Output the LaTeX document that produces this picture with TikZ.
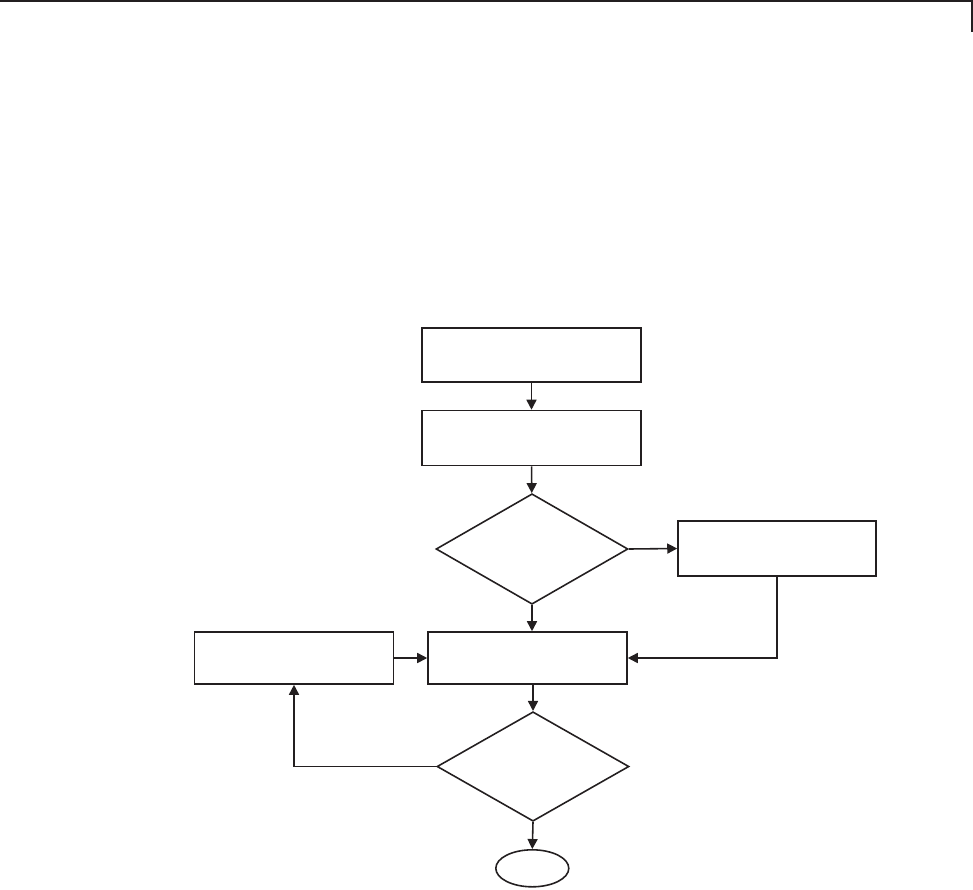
\documentclass[tikz,border=0pt]{standalone}
\usepackage{tikz}
\usetikzlibrary{arrows.meta,positioning,shapes.geometric}
\definecolor{FCInk}{HTML}{231F20}
\tikzset{
  flow/.style={-{Triangle[length=2.0mm,width=2.0mm]},FCInk,line width=0.9pt},
  procbox/.style={draw=FCInk,line width=0.9pt,fill=white,inner sep=0pt},
  decision/.style={diamond,draw=FCInk,line width=0.9pt,inner sep=0pt,
                   minimum width=3.84cm,minimum height=2.21cm},
  terminal/.style={ellipse,draw=FCInk,line width=0.9pt,inner sep=0pt,
                   minimum width=1.46cm,minimum height=0.74cm},
  headrule/.style={FCInk,line width=0.6pt},
}

\begin{document}
\begin{tikzpicture}[x=0.02cm,y=-0.02cm]
    \useasboundingbox (0,0) rectangle (973,889);
    \draw[headrule] (0,1) -- (972,1) -- (972,32);

    \node[procbox,minimum width=4.38cm,minimum height=1.08cm] (start) at (531.5,355) {};
    \node[procbox,minimum width=4.38cm,minimum height=1.10cm] (init) at (531.5,438) {};
    \node[decision] (testA) at (532,549) {};
    \node[procbox,minimum width=3.96cm,minimum height=1.10cm] (branch) at (777,548.5) {};
    \node[procbox,minimum width=3.98cm,minimum height=1.04cm] (work) at (527.5,658) {};
    \node[procbox,minimum width=3.98cm,minimum height=1.04cm] (update) at (294,658) {};
    \node[decision,minimum height=2.19cm] (testB) at (533,766.5) {};
    \node[terminal] (stop) at (532.3,868.3) {};

    \draw[flow] (start) -- (init);
    \draw[flow] (init) -- (testA);
    \draw[flow] (testA.east) -- (branch.west);
    \draw[flow] (testA.south) -- (testA.south |- work.north);
    \draw[flow] (branch.south) |- (work.east);
    \draw[flow] (update.east) -- (work.west);
    \draw[flow] (testB.north |- work.south) -- (testB.north);
    \draw[flow] (testB.west) -| (update.south);
    \draw[flow] (testB.south) -- (stop.north);
  \end{tikzpicture}
\end{document}
